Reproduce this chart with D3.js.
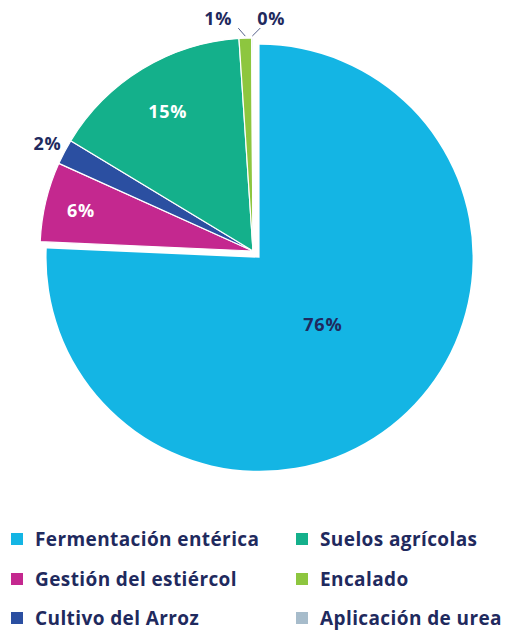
<!DOCTYPE html>
<html><head><meta charset="utf-8">
<script src="https://cdn.jsdelivr.net/npm/d3@7"></script>
<style>body{margin:0;background:#fff}svg{display:block}</style>
</head><body>
<script>
const categories = ["Fermentación entérica","Gestión del estiércol","Cultivo del Arroz","Suelos agrícolas","Encalado","Aplicación de urea"];
const values = [75.7, 6.05, 1.9, 15.3, 0.95, 0.1];
const labels = ["76%","6%","2%","15%","1%","0%"];
const colors = ["#14b5e4","#c4288f","#2b4fa1","#14b08b","#8dc63f","#a7bccb"];
const legendOrder = [0,3,1,4,2,5];

const W=508,H=630;
const svg=d3.select("body").append("svg").attr("width",W).attr("height",H);
const cx=253, cy=251, R=213, explode=9.5;
const pie=d3.pie().sort(null).value(d=>d)(values);
const arc=d3.arc().innerRadius(0).outerRadius(R);
const g=svg.append("g").attr("transform",`translate(${cx},${cy})`);
const navy="#1f2a5e";
const fontFam="'Open Sans', sans-serif";

pie.forEach((p,i)=>{
  const mid=(p.startAngle+p.endAngle)/2;
  const off = i===0?explode:0;
  g.append("path").attr("d",arc(p))
   .attr("transform",`translate(${Math.sin(mid)*off},${-Math.cos(mid)*off})`)
   .attr("fill",colors[i]).attr("stroke","#fff").attr("stroke-width",i===0?0:1.2);
});

// labels
const labelCfg=[
 {r:0.43, fill:navy, off:explode},
 {r:0.83, fill:"#fff"},
 {r:1.09, fill:navy},
 {r:0.77, fill:"#fff"},
 {r:1.09, fill:navy, dx:-27, leader:true},
 {r:1.09, fill:navy, dx:19, leader:true}
];
pie.forEach((p,i)=>{
  const c=labelCfg[i];
  const mid=(p.startAngle+p.endAngle)/2;
  const o=c.off||0;
  let x=Math.sin(mid)*(c.r*R+o), y=-Math.cos(mid)*(c.r*R+o);
  if(c.leader){
    const ex=Math.sin(mid)*(R+1), ey=-Math.cos(mid)*(R+1);
    x=ex+c.dx; y=-R-20;
    g.append("line").attr("x1",ex).attr("y1",ey-1).attr("x2",ex+(c.dx<0?-7:8)).attr("y2",ey-9)
     .attr("stroke","#55608a").attr("stroke-width",1);
  }
  g.append("text").attr("x",x).attr("y",y).attr("text-anchor","middle").attr("dominant-baseline","central")
   .attr("font-family",fontFam).attr("font-weight",700).attr("font-size",18).attr("letter-spacing",0.8)
   .attr("fill",c.fill).text(labels[i]);
});

// legend
const colX=[11,296], rowY=[539,579,618];
legendOrder.forEach((ci,k)=>{
  const col=k%2,row=Math.floor(k/2);
  const lg=svg.append("g").attr("transform",`translate(${colX[col]},${rowY[row]})`);
  lg.append("rect").attr("x",0).attr("y",-6).attr("width",12).attr("height",12).attr("fill",colors[ci]);
  lg.append("text").attr("x",24).attr("y",0).attr("dominant-baseline","central")
    .attr("font-family",fontFam).attr("font-weight",700).attr("font-size",19).attr("letter-spacing",0.4)
    .attr("fill",navy).text(categories[ci]);
});
</script>
</body></html>
